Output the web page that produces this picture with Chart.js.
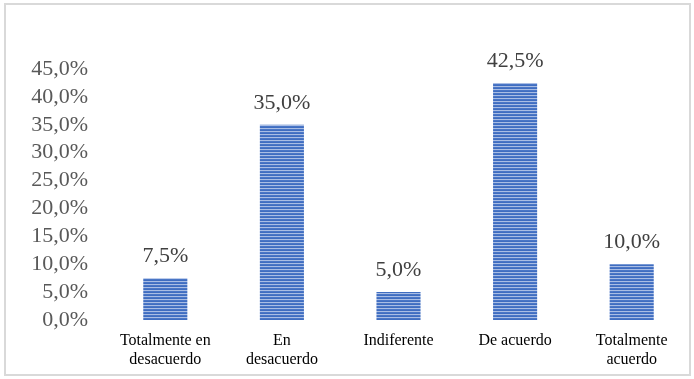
<!DOCTYPE html>
<html>
<head>
<meta charset="utf-8">
<script src="https://cdn.jsdelivr.net/npm/chart.js@4.4.1/dist/chart.umd.min.js"></script>
<style>
  html, body { margin: 0; padding: 0; background: #ffffff; overflow: hidden; }
  #wrap { position: relative; width: 694px; height: 379px; }
  #c { position: absolute; left: 0; top: 0; }
  #frame { position: absolute; left: 4px; top: 3px; width: 687px; height: 373px;
           border: 2px solid #d9d9d9; box-sizing: border-box; pointer-events: none; }
</style>
</head>
<body>
<div id="wrap">
  <canvas id="c" width="694" height="379"></canvas>
  <div id="frame"></div>
</div>
<script>
// ---- data ----
const categories = [
  ["Totalmente en", "desacuerdo"],
  ["En", "desacuerdo"],
  "Indiferente",
  "De acuerdo",
  ["Totalmente", "acuerdo"]
];
const percentages = [7.5, 35.0, 5.0, 42.5, 10.0];
const yTickValues = [0, 5, 10, 15, 20, 25, 30, 35, 40, 45];

function fmtPct(v) { return v.toFixed(1).replace('.', ',') + '%'; }

// striped fill pattern (horizontal lines)
function makeStripePattern(ctx) {
  const p = document.createElement('canvas');
  p.width = 4; p.height = 3;
  const pc = p.getContext('2d');
  pc.fillStyle = '#4a76c6'; pc.fillRect(0, 0, 4, 1);
  pc.fillStyle = '#3f6dc0'; pc.fillRect(0, 1, 4, 1);
  pc.fillStyle = '#a9bde4'; pc.fillRect(0, 2, 4, 1);
  return ctx.createPattern(p, 'repeat');
}

const valueLabels = {
  id: 'valueLabels',
  afterDatasetsDraw(chart) {
    const ctx = chart.ctx;
    const meta = chart.getDatasetMeta(0);
    ctx.save();
    ctx.font = '22px "Liberation Serif", "Times New Roman", serif';
    ctx.fillStyle = '#404040';
    ctx.textAlign = 'center';
    ctx.textBaseline = 'alphabetic';
    meta.data.forEach((bar, i) => {
      ctx.fillText(fmtPct(percentages[i]), bar.x, bar.y - 16);
    });
    ctx.restore();
  }
};

const canvas = document.getElementById('c');
const ctx = canvas.getContext('2d');

new Chart(ctx, {
  type: 'bar',
  data: {
    labels: categories,
    datasets: [{
      data: percentages,
      backgroundColor: makeStripePattern(ctx),
      borderWidth: 0,
      barPercentage: 0.378,
      categoryPercentage: 1.0
    }]
  },
  options: {
    responsive: false,
    devicePixelRatio: 1,
    animation: false,
    events: [],
    layout: { padding: { left: 0, right: 4, top: 69, bottom: 0 } },
    plugins: {
      legend: { display: false },
      tooltip: { enabled: false },
      title: { display: false }
    },
    scales: {
      x: {
        grid: { display: false, drawTicks: false },
        border: { display: false },
        ticks: {
          color: '#000000',
          font: { family: '"Liberation Serif", "Times New Roman", serif', size: 16, lineHeight: 1.2 },
          padding: 11,
          maxRotation: 0,
          minRotation: 0,
          autoSkip: false
        },
        afterFit(scale) { scale.height = 59; }
      },
      y: {
        min: 0,
        max: 45,
        grid: { display: false, drawTicks: false },
        border: { display: false },
        afterBuildTicks(scale) { scale.ticks = yTickValues.map(v => ({ value: v })); },
        ticks: {
          color: '#595959',
          autoSkip: false,
          font: { family: '"Liberation Serif", "Times New Roman", serif', size: 22 },
          padding: 19,
          callback: (v) => fmtPct(v)
        },
        afterFit(scale) { scale.width = 107; }
      }
    }
  },
  plugins: [valueLabels]
});
</script>
</body>
</html>
